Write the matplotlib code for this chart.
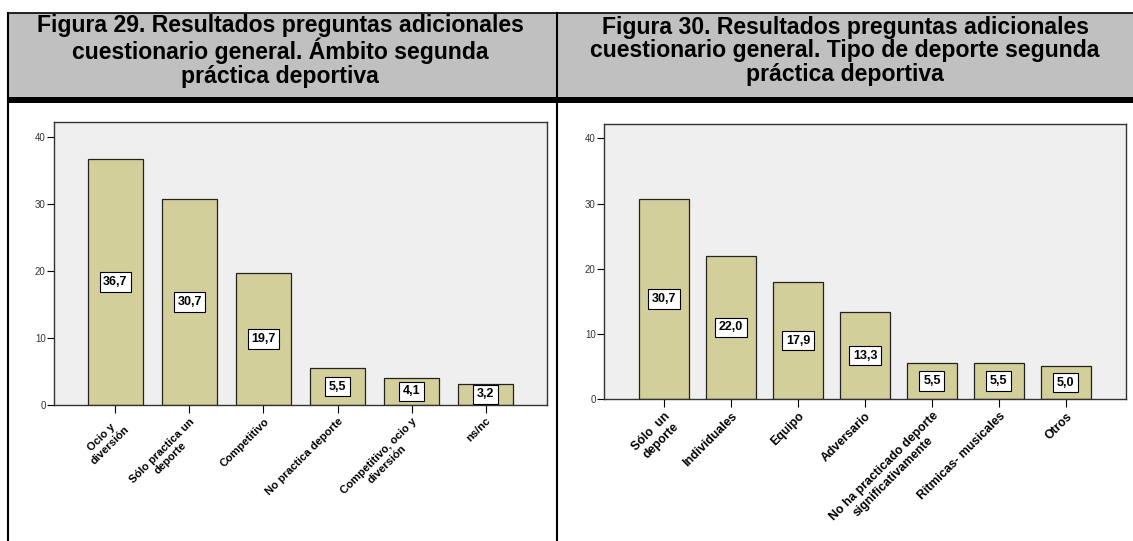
import matplotlib.pyplot as plt
from matplotlib.lines import Line2D
from matplotlib.patches import Rectangle

plt.rcParams['font.family'] = ['Liberation Sans', 'DejaVu Sans']

# Figura 29 - ambito segunda practica deportiva
ambito_labels = ["Ocio y\ndiversión", "Sólo practica un\ndeporte", "Competitivo",
                 "No practica deporte", "Competitivo, ocio y\ndiversión", "ns/nc"]
ambito_values = [36.7, 30.7, 19.7, 5.5, 4.1, 3.2]

# Figura 30 - tipo de deporte segunda practica deportiva
tipo_labels = ["Sólo  un\ndeporte", "Individuales", "Equipo", "Adversario",
               "No ha practicado deporte\nsignificativamente", "Ritmicas- musicales", "Otros"]
tipo_values = [30.7, 22.0, 17.9, 13.3, 5.5, 5.5, 5.0]

titles = ["Figura 29. Resultados preguntas adicionales\ncuestionario general. Ámbito segunda\npráctica deportiva",
          "Figura 30. Resultados preguntas adicionales\ncuestionario general. Tipo de deporte segunda\npráctica deportiva"]

W, H = 1133, 541
fig = plt.figure(figsize=(W / 100, H / 100), dpi=100)


def px_box(x0, y0, x1, y1):
    return [x0 / W, 1 - y1 / H, (x1 - x0) / W, (y1 - y0) / H]


# table frame: grey header, thick rule, vertical borders
fig.patches.append(Rectangle((8 / W, 1 - 97 / H), 1 - 8 / W, (97 - 13) / H,
                             transform=fig.transFigure, facecolor='#c0c0c0', edgecolor='none'))
fig.patches.append(Rectangle((8 / W, 1 - 103 / H), 1 - 8 / W, 6 / H,
                             transform=fig.transFigure, facecolor='black', edgecolor='none'))
fig.lines.append(Line2D([8 / W, 1], [1 - 13 / H] * 2, transform=fig.transFigure, color='black', lw=1.2))
for xp in (8, 557):
    fig.lines.append(Line2D([xp / W] * 2, [0, 1 - 13 / H], transform=fig.transFigure, color='black', lw=1.5))

for xc, t in zip((280, 845), titles):
    fig.text(xc / W, 1 - 51 / H, t, ha='center', va='center', fontsize=16.6,
             fontweight='bold', linespacing=1.05)


def bar_panel(rect, labels, values, margin, width, xfs):
    ax = fig.add_axes(rect)
    ax.set_facecolor('#efefef')
    x = range(len(values))
    ax.bar(x, values, width=width, color='#d3cf9b', edgecolor='#222222', linewidth=0.9, zorder=2)
    for xi, v in zip(x, values):
        ax.text(xi, v / 2, f"{v:.1f}".replace('.', ','), ha='center', va='center',
                fontsize=9, fontweight='bold', zorder=3,
                bbox=dict(boxstyle='square,pad=0.3', facecolor='white', edgecolor='black', lw=0.8))
    ax.set_xlim(-margin, len(values) - 1 + margin)
    ax.set_ylim(0, 42.2)
    ax.set_yticks([0, 10, 20, 30, 40])
    ax.tick_params(axis='y', labelsize=7, labelcolor='#333333', length=5, width=0.8, pad=1)
    ax.set_xticks(list(x))
    ax.set_xticklabels(labels, rotation=45, ha='right', va='top', rotation_mode='anchor',
                       fontsize=xfs, fontweight='bold', multialignment='center')
    ax.tick_params(axis='x', length=6, width=0.8, pad=2)
    for s in ax.spines.values():
        s.set_color('#333333')
        s.set_linewidth(1.0)
    return ax


bar_panel(px_box(54, 122, 547, 405), ambito_labels, ambito_values, 0.83, 0.74, 8)
bar_panel(px_box(604, 124, 1126, 399), tipo_labels, tipo_values, 0.9, 0.75, 8.8)

plt.savefig("out.png", dpi=100)
